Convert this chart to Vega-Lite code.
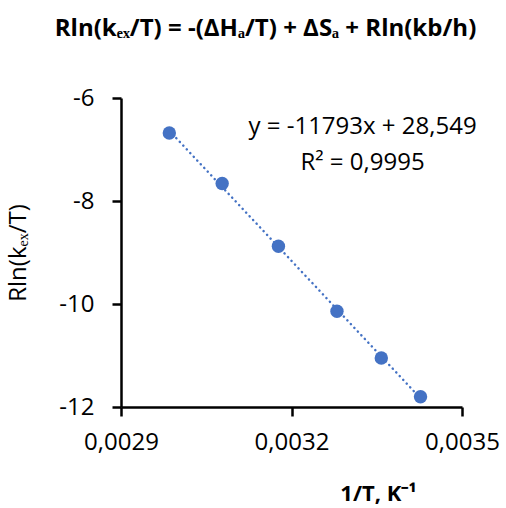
{
  "$schema": "https://vega.github.io/schema/vega-lite/v6.json",
  "width": 341,
  "height": 309,
  "autosize": {"type": "none"},
  "padding": {"left": 121, "top": 98, "right": 44, "bottom": 101},
  "background": "white",
  "config": {"view": {"stroke": null}, "font": "Open Sans"},
  "title": {
    "text": "Rln(kₑₓ/T) = -(ΔHₐ/T) + ΔSₐ + Rln(kb/h)",
    "font": "Open Sans",
    "fontSize": 24,
    "fontWeight": "bold",
    "color": "#000000",
    "anchor": "middle",
    "baseline": "alphabetic",
    "offset": 26,
    "dx": -26
  },
  "datasets": {
    "pts": [
      {"x": 0.002985, "y": -6.68},
      {"x": 0.003078, "y": -7.66},
      {"x": 0.003177, "y": -8.88},
      {"x": 0.00328, "y": -10.14},
      {"x": 0.003358, "y": -11.05},
      {"x": 0.003427, "y": -11.8}
    ],
    "notes": [
      {"x": 0.003325, "y": -6.56, "label": "y = -11793x + 28,549"},
      {"x": 0.003325, "y": -7.26, "label": "R² = 0,9995"}
    ]
  },
  "layer": [
    {
      "data": {"name": "pts"},
      "transform": [
        {"regression": "y", "on": "x", "method": "linear", "extent": [0.002985, 0.003427]}
      ],
      "mark": {"type": "line", "color": "#4472C4", "strokeWidth": 2.5, "strokeDash": [0.1, 5], "strokeCap": "round"},
      "encoding": {
        "x": {"field": "x", "type": "quantitative"},
        "y": {"field": "y", "type": "quantitative"}
      }
    },
    {
      "data": {"name": "pts"},
      "mark": {"type": "circle", "color": "#4472C4", "opacity": 1, "size": 180},
      "encoding": {
        "x": {
          "field": "x",
          "type": "quantitative",
          "scale": {"domain": [0.0029, 0.0035], "zero": false, "nice": false},
          "axis": {
            "values": [0.0029, 0.0032, 0.0035],
            "labelExpr": "replace(format(datum.value, '.4f'), '.', ',')",
            "title": "1/T, K⁻¹",
            "titleFont": "Open Sans",
            "titleFontSize": 22,
            "titleFontWeight": "bold",
            "titleColor": "#000000",
            "titleX": 257,
            "titleY": 93,
            "titleBaseline": "alphabetic",
            "grid": false,
            "domainColor": "#000000",
            "domainWidth": 2.5,
            "tickColor": "#000000",
            "tickWidth": 2.5,
            "tickSize": 9,
            "labelFont": "Open Sans",
            "labelFontSize": 24,
            "labelColor": "#000000",
            "labelPadding": 14,
            "labelFlush": false
          }
        },
        "y": {
          "field": "y",
          "type": "quantitative",
          "scale": {"domain": [-12, -6], "zero": false, "nice": false},
          "axis": {
            "values": [-12, -10, -8, -6],
            "labelExpr": "datum.value + ''",
            "title": "Rln(kₑₓ/T)",
            "titleFont": "Open Sans",
            "titleFontSize": 24,
            "titleFontWeight": "normal",
            "titleColor": "#000000",
            "titleX": -96,
            "titleBaseline": "alphabetic",
            "grid": false,
            "domainColor": "#000000",
            "domainWidth": 2.5,
            "tickColor": "#000000",
            "tickWidth": 2.5,
            "tickSize": 9,
            "labelFont": "Open Sans",
            "labelFontSize": 24,
            "labelColor": "#000000",
            "labelPadding": 18
          }
        }
      }
    },
    {
      "data": {"name": "notes"},
      "mark": {"type": "text", "font": "Open Sans", "fontSize": 24, "color": "#000000", "align": "center", "baseline": "middle"},
      "encoding": {
        "x": {"field": "x", "type": "quantitative"},
        "y": {"field": "y", "type": "quantitative"},
        "text": {"field": "label"}
      }
    }
  ]
}
